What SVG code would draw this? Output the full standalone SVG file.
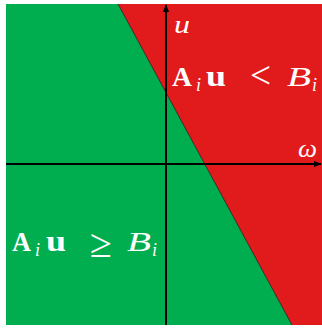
<svg xmlns="http://www.w3.org/2000/svg" width="322" height="328" viewBox="0 0 322 328">
<style>
.lbl{font-family:"Liberation Serif","Times New Roman",serif;fill:#ffffff}
.b{font-weight:bold}
.it{font-style:italic}
.ax{stroke:#000000;stroke-width:2;fill:none}
</style>
<defs>
<marker id="arr" viewBox="0 0 10 10" refX="9" refY="5" markerWidth="4" markerHeight="4" orient="auto" markerUnits="strokeWidth">
<path d="M0,1 L10,5 L0,9 z" fill="#000000"/>
</marker>
</defs>
<rect x="0" y="0" width="322" height="328" fill="#ffffff"/>
<g id="green-region">
<polygon points="6,4 118,4 292,325 6,325" fill="#00ae4f"/>
</g>
<g id="red-region">
<polygon points="118,4 322,4 322,325 292,325" fill="#e11a1c"/>
</g>
<line x1="118" y1="4" x2="292" y2="325" stroke="#1a1a1a" stroke-width="0.8"/>
<g id="connectors">
<line class="ax" x1="166" y1="325" x2="166" y2="5" marker-end="url(#arr)"/>
<line class="ax" x1="6" y1="164" x2="321" y2="164" marker-end="url(#arr)"/>
</g>
<g id="label-u">
<text class="lbl it" x="174" y="33" font-size="26" textLength="16" lengthAdjust="spacingAndGlyphs">u</text>
</g>
<g id="label-omega">
<text class="lbl it" x="298" y="157" font-size="26" textLength="19" lengthAdjust="spacingAndGlyphs">ω</text>
</g>
<g id="label-less">
<text class="lbl b" x="172" y="86" font-size="28" textLength="20" lengthAdjust="spacingAndGlyphs">A</text>
<text class="lbl it" x="196" y="91" font-size="19" textLength="5" lengthAdjust="spacingAndGlyphs">i</text>
<text class="lbl b" x="206" y="86" font-size="29" textLength="20" lengthAdjust="spacingAndGlyphs">u</text>
<text class="lbl" x="250" y="88" font-size="38" textLength="21" lengthAdjust="spacingAndGlyphs">&lt;</text>
<text class="lbl it" x="287" y="86" font-size="28" textLength="24" lengthAdjust="spacingAndGlyphs">B</text>
<text class="lbl it" x="312" y="91" font-size="19" textLength="5" lengthAdjust="spacingAndGlyphs">i</text>
</g>
<g id="label-geq">
<text class="lbl b" x="12" y="251" font-size="28" textLength="19" lengthAdjust="spacingAndGlyphs">A</text>
<text class="lbl it" x="35" y="256" font-size="19" textLength="5" lengthAdjust="spacingAndGlyphs">i</text>
<text class="lbl b" x="46" y="251" font-size="29" textLength="20" lengthAdjust="spacingAndGlyphs">u</text>
<text class="lbl" x="90" y="257" font-size="40" textLength="22" lengthAdjust="spacingAndGlyphs">≥</text>
<text class="lbl it" x="127" y="251" font-size="28" textLength="24" lengthAdjust="spacingAndGlyphs">B</text>
<text class="lbl it" x="152" y="256" font-size="19" textLength="5" lengthAdjust="spacingAndGlyphs">i</text>
</g>
</svg>
